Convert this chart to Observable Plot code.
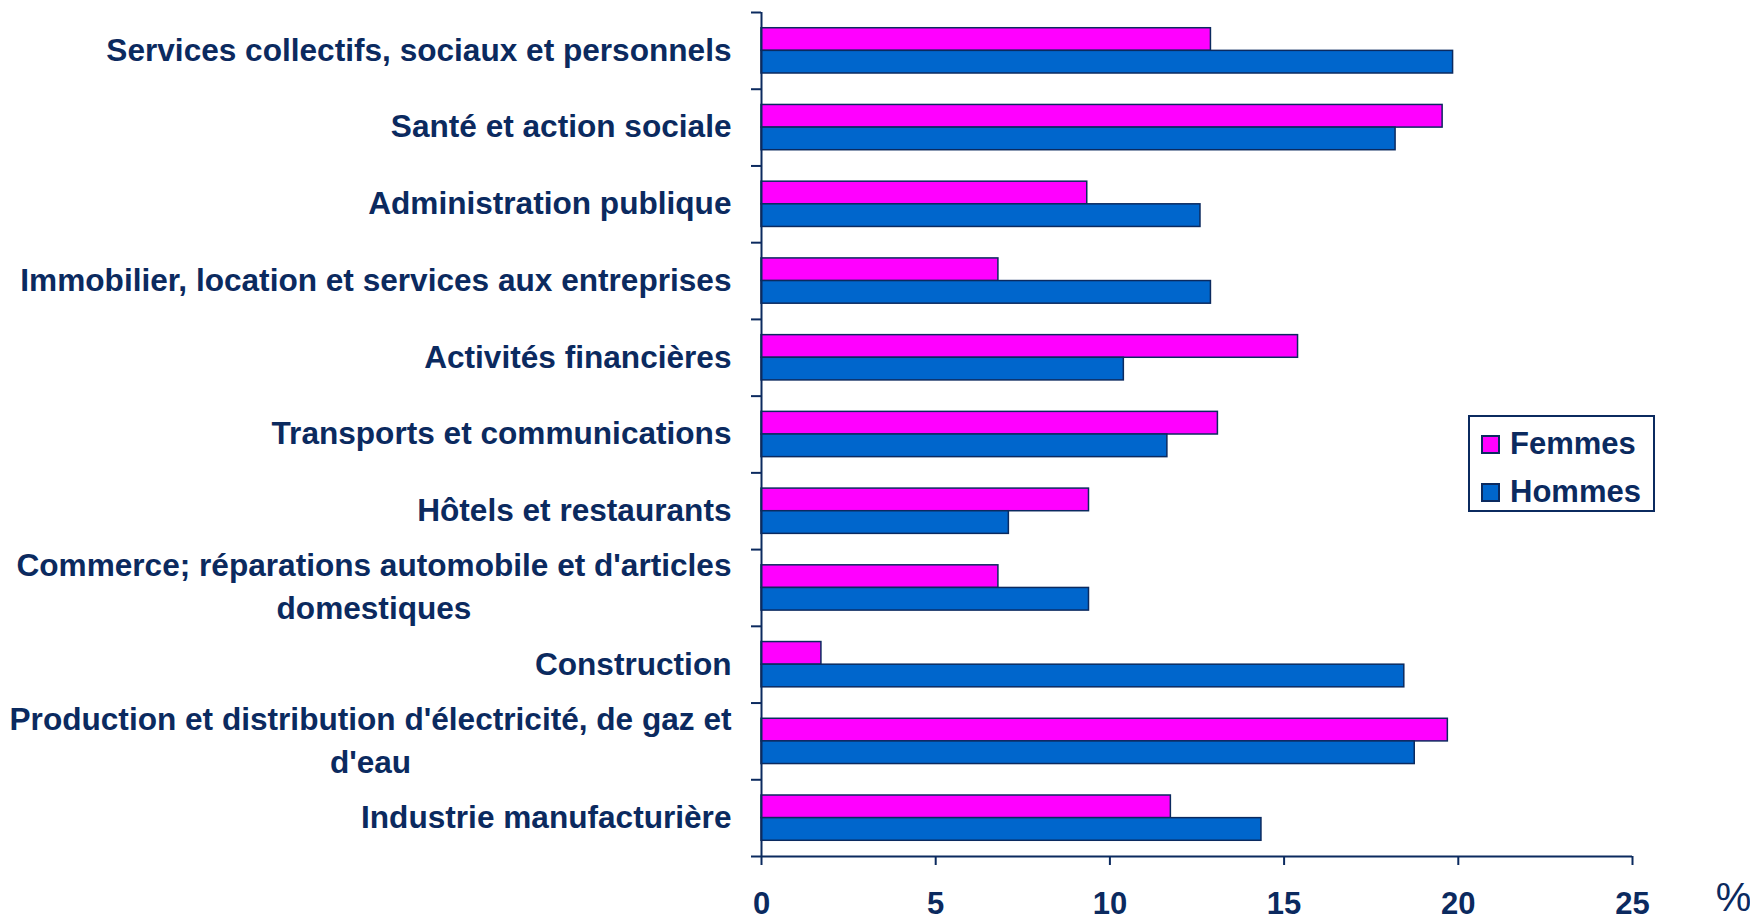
<!DOCTYPE html>
<html>
<head>
<meta charset="utf-8">
<script src="https://cdn.jsdelivr.net/npm/d3@7"></script>
<script src="https://cdn.jsdelivr.net/npm/@observablehq/plot@0.6"></script>
<style>
  html, body { margin: 0; padding: 0; background: #fff; }
  #wrap { position: relative; width: 1750px; height: 917px; font-family: "Liberation Sans", Arial, sans-serif; }
  #legend { position: absolute; left: 1468px; top: 415px; width: 183px; height: 93px; border: 2px solid #0b2a5f; background: #fff; }
  .item { position: absolute; left: 11px; display: flex; align-items: center; font-weight: bold; font-size: 31px; color: #0b2a5f; }
  .sw { width: 15px; height: 15px; border: 2px solid #0b2a5f; margin-right: 10px; }
</style>
</head>
<body>
<div id="wrap">
  <div id="legend">
    <div class="item" style="top:9px"><div class="sw" style="background:#ff00ff"></div>Femmes</div>
    <div class="item" style="top:57px"><div class="sw" style="background:#0066cc"></div>Hommes</div>
  </div>
</div>
<script>
const categories = [
  "Services collectifs, sociaux et personnels",
  "Santé et action sociale",
  "Administration publique",
  "Immobilier, location et services aux entreprises",
  "Activités financières",
  "Transports et communications",
  "Hôtels et restaurants",
  "Commerce; réparations automobile et d'articles\ndomestiques",
  "Construction",
  "Production et distribution d'électricité, de gaz et\nd'eau",
  "Industrie manufacturière"
];
const femmes = [12.9, 19.55, 9.35, 6.8, 15.4, 13.1, 9.4, 6.8, 1.72, 19.7, 11.75];
const hommes = [19.85, 18.2, 12.6, 12.9, 10.4, 11.65, 7.1, 9.4, 18.45, 18.75, 14.35];
const series = ["Femmes", "Hommes"];
const xTicks = [0, 5, 10, 15, 20, 25];

const navy = "#0b2a5f";
const colors = {Femmes: "#ff00ff", Hommes: "#0066cc"};

const rows = categories.flatMap((c, i) => [
  {i, cat: c, sex: "Femmes", v: femmes[i]},
  {i, cat: c, sex: "Hommes", v: hommes[i]}
]);
const half = 0.295;
const boundaries = d3.range(categories.length + 1).map(i => i - 0.5);

const chart = Plot.plot({
  width: 1750,
  height: 917,
  marginLeft: 761,
  marginRight: 118,
  marginTop: 12,
  marginBottom: 61,
  style: {fontFamily: "'Liberation Sans', Arial, sans-serif", background: "transparent", overflow: "visible"},
  x: {domain: [0, 25]},
  y: {domain: [-0.5, categories.length - 0.5], reverse: true},
  marks: [
    Plot.rect(rows, {
      x1: 0,
      x2: "v",
      y1: d => d.sex === "Femmes" ? d.i - half : d.i,
      y2: d => d.sex === "Femmes" ? d.i : d.i + half,
      fill: d => colors[d.sex],
      stroke: navy,
      strokeWidth: 1.5
    }),
    Plot.ruleX([0], {stroke: navy, strokeWidth: 2}),
    Plot.ruleY([categories.length - 0.5], {stroke: navy, strokeWidth: 2}),
    Plot.axisY(boundaries, {tickSize: 10, text: null, label: null, stroke: navy, strokeWidth: 2}),
    Plot.axisX(xTicks, {tickSize: 9, tickPadding: 26, label: null, fontSize: 31, fontWeight: "bold", color: navy, strokeWidth: 2}),
    Plot.text(categories, {
      y: (d, i) => i,
      text: d => d,
      frameAnchor: "left",
      textAnchor: "end",
      dx: -30,
      dy: -4,
      lineHeight: 1.37,
      fontSize: 31.6,
      fontWeight: "bold",
      fill: navy
    }),
    Plot.text(["%"], {
      frameAnchor: "bottom-right",
      text: d => d,
      textAnchor: "middle",
      dx: 101,
      dy: 54,
      fontSize: 40,
      fill: navy
    })
  ]
});

const wrap = document.getElementById("wrap");
wrap.insertBefore(chart, wrap.firstChild);

// center wrapped lines of multi-line category labels under their widest line
chart.querySelectorAll("text").forEach(t => {
  const spans = t.querySelectorAll("tspan");
  if (spans.length > 1) {
    const w = Math.max(...Array.from(spans, s => s.getComputedTextLength()));
    t.setAttribute("text-anchor", "middle");
    spans.forEach(s => s.setAttribute("x", -w / 2));
  }
});
</script>
</body>
</html>
